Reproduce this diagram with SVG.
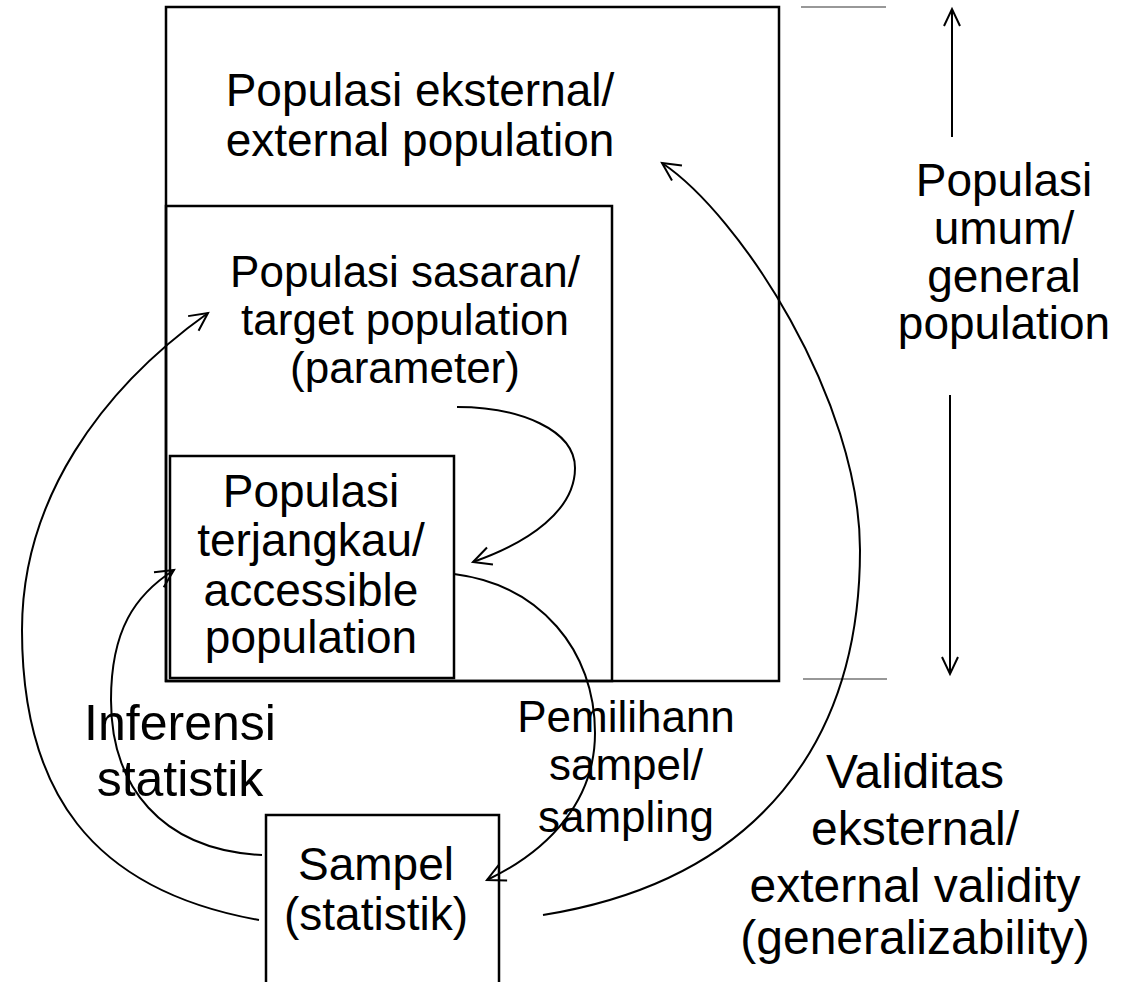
<svg xmlns="http://www.w3.org/2000/svg" width="1142" height="982" viewBox="0 0 1142 982">
<style>
  .box { fill: none; stroke: #000; stroke-width: 2.5; }
  .t { font-family: "Liberation Sans", Arial, sans-serif; font-size: 46px; fill: #000; text-anchor: middle; }
  .conn { fill: none; stroke: #000; stroke-width: 2; }
  .tick { stroke: #333; stroke-width: 1.2; }
</style>
<defs>
  <marker id="arr" markerUnits="userSpaceOnUse" markerWidth="26" markerHeight="22" viewBox="-22 -11 26 22" refX="0" refY="0" orient="auto">
    <path d="M-18,-9 L0,0 L-18,9" fill="none" stroke="#000" stroke-width="2"/>
  </marker>
  <marker id="arrS" markerUnits="userSpaceOnUse" markerWidth="24" markerHeight="18" viewBox="-20 -9 24 18" refX="0" refY="0" orient="auto">
    <path d="M-17,-8 L0,0 L-17,8" fill="none" stroke="#000" stroke-width="2"/>
  </marker>
</defs>
<rect width="1142" height="982" fill="#fff"/>

<g id="external-population">
  <rect class="box" x="166" y="7" width="613" height="674"/>
  <text class="t" x="420" y="106">Populasi eksternal/</text>
  <text class="t" x="420" y="156">external population</text>
</g>

<g id="target-population">
  <rect class="box" x="166" y="206" width="446" height="475"/>
  <text class="t" x="405" y="287" style="font-size:44px">Populasi sasaran/</text>
  <text class="t" x="405" y="335" style="font-size:44px">target population</text>
  <text class="t" x="405" y="383" style="font-size:44px">(parameter)</text>
</g>

<g id="accessible-population">
  <rect class="box" x="170" y="456" width="284" height="222"/>
  <text class="t" x="311" y="507">Populasi</text>
  <text class="t" x="311" y="556">terjangkau/</text>
  <text class="t" x="311" y="606">accessible</text>
  <text class="t" x="311" y="653">population</text>
</g>

<g id="sample">
  <rect class="box" x="266" y="815" width="233" height="200"/>
  <text class="t" x="376" y="880">Sampel</text>
  <text class="t" x="376" y="930">(statistik)</text>
</g>

<g id="general-population">
  <line class="tick" x1="801" y1="7" x2="886" y2="7"/>
  <line class="tick" x1="803" y1="679" x2="887" y2="679"/>
  <text class="t" x="1004" y="196">Populasi</text>
  <text class="t" x="1004" y="244">umum/</text>
  <text class="t" x="1004" y="292">general</text>
  <text class="t" x="1004" y="339">population</text>
</g>

<g id="label-inferensi">
  <text class="t" x="180" y="740" style="font-size:50px">Inferensi</text>
  <text class="t" x="180" y="796" style="font-size:50px">statistik</text>
</g>

<g id="label-sampling">
  <text class="t" x="626" y="732" style="font-size:44px">Pemilihann</text>
  <text class="t" x="626" y="780" style="font-size:44px">sampel/</text>
  <text class="t" x="626" y="832" style="font-size:44px">sampling</text>
</g>

<g id="label-validity">
  <text class="t" x="915" y="788" style="font-size:48px">Validitas</text>
  <text class="t" x="915" y="845" style="font-size:48px">eksternal/</text>
  <text class="t" x="915" y="902" style="font-size:48px">external validity</text>
  <text class="t" x="915" y="954" style="font-size:48px">(generalizability)</text>
</g>

<g id="connectors">
  <path class="conn" d="M457,407 C520,407 575,430 575,468 C575,510 530,542 473,562" marker-end="url(#arr)"/>
  <path class="conn" d="M454,574 C540,585 595,650 595,733 C595,800 550,850 487,880" marker-end="url(#arr)"/>
  <path class="conn" d="M543,915 C760,880 860,740 860,550 C860,400 740,215 662,163" marker-end="url(#arr)"/>
  <path class="conn" d="M262,855 C160,850 111,785 111,700 C111,630 135,595 174,570" marker-end="url(#arr)"/>
  <path class="conn" d="M259,920 C90,890 22,790 22,630 C22,500 100,390 208,313" marker-end="url(#arr)"/>
  <line class="conn" x1="952" y1="137" x2="952" y2="9" marker-end="url(#arrS)"/>
  <line class="conn" x1="950" y1="395" x2="950" y2="674" marker-end="url(#arrS)"/>
</g>
</svg>
